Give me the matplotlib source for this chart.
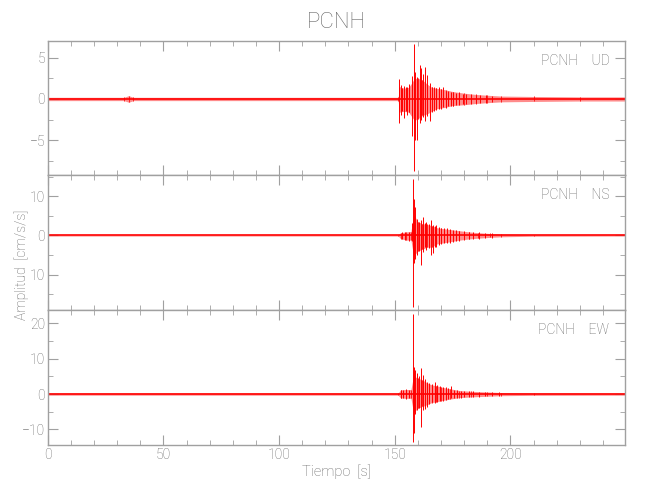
import matplotlib
matplotlib.use("Agg")
import matplotlib.pyplot as plt
from matplotlib.ticker import MultipleLocator

# Station / channel names
station = "PCNH"
channels = ["UD", "NS", "EW"]

# Time axis ticks
x_ticks = [0, 50, 100, 150, 200]
x_tick_labels = ["0", "50", "100", "150", "200"]

# Y ticks shown on each panel (labels as printed on the original)
y_ticks_ud = [5, 0, -5]
y_labels_ud = ["5", "0", "\u22125"]
y_ticks_ns = [10, 0, -10]
y_labels_ns = ["10", "0", "10"]
y_ticks_ew = [20, 10, 0, -10]
y_labels_ew = ["20", "10", "0", "\u221210"]

# Y limits
ylim_ud = (-9.2, 7.05)
ylim_ns = (-19.0, 15.4)
ylim_ew = (-14.4, 23.8)

# --- UD: envelope of the trace (time, upper, lower) ---
t_env_ud = [0, 33, 35, 37, 151.5, 152, 154, 156, 157.5, 158.5, 160, 162, 164,
            166, 168, 170, 172, 175, 180, 185, 190, 196, 210, 230, 249.5]
hi_env_ud = [0.2, 0.2, 0.4, 0.2, 0.2, 1.5, 1.3, 1.4, 2.0, 2.5, 2.5, 2.3, 1.8,
             1.4, 1.3, 1.2, 1.1, 0.9, 0.7, 0.55, 0.45, 0.35, 0.3, 0.25, 0.25]
lo_env_ud = [-0.2, -0.2, -0.4, -0.2, -0.2, -1.6, -1.5, -1.6, -2.2, -2.6, -2.4, -2.0, -1.8,
             -1.5, -1.2, -1.1, -1.0, -0.8, -0.7, -0.55, -0.45, -0.35, -0.3, -0.25, -0.25]
# UD: single large swings (time, low, high)
t_pk_ud = [151.9, 152.6, 153.3, 154.0, 154.8, 155.5, 156.3, 157.4, 158.2, 158.9,
           159.8, 160.8, 161.5, 162.3, 163.0, 164.1, 165.2, 166.1, 167.0, 168.0,
           169.0, 170.0, 171.0, 172.0, 173.0, 174.2, 175.3, 176.5, 178.0, 179.5,
           181.0, 183.0, 185.0, 187.0, 189.5, 192.0]
lo_pk_ud = [-2.9, -2.0, -1.4, -2.3, -1.5, -1.9, -1.6, -4.5, -8.7, -5.0,
            -5.0, -2.9, -2.5, -2.2, -2.7, -2.1, -2.7, -1.6, -1.5, -1.3,
            -1.2, -1.2, -1.0, -1.1, -0.9, -0.8, -0.8, -0.7, -0.7, -0.6,
            -0.6, -0.55, -0.5, -0.45, -0.45, -0.4]
hi_pk_ud = [2.4, 1.7, 1.3, 1.6, 1.4, 1.5, 1.8, 2.8, 6.7, 3.3,
            2.6, 4.1, 3.7, 3.0, 3.9, 2.9, 1.9, 1.5, 1.4, 1.3,
            1.5, 1.2, 1.5, 1.0, 1.0, 0.8, 0.9, 0.7, 0.8, 0.6,
            0.6, 0.55, 0.5, 0.5, 0.45, 0.4]

# --- NS ---
t_env_ns = [0, 151.5, 152.5, 155, 157, 157.8, 158.5, 160, 162, 164, 166, 168,
            170, 174, 178, 182, 186, 191, 196, 210, 249.5]
hi_env_ns = [0.15, 0.15, 0.7, 0.9, 1.0, 4.0, 5.0, 3.5, 3.0, 2.8, 2.5, 2.0,
             1.8, 1.5, 1.2, 0.9, 0.7, 0.5, 0.35, 0.2, 0.15]
lo_env_ns = [-0.15, -0.15, -0.8, -1.2, -1.2, -4.0, -5.0, -4.0, -3.5, -3.0, -3.0, -2.2,
             -2.0, -1.6, -1.2, -0.9, -0.7, -0.5, -0.35, -0.2, -0.15]
t_pk_ns = [153.0, 154.5, 156.0, 157.5, 157.9, 158.4, 158.9, 159.8, 160.5, 161.3,
           162.3, 163.0, 163.7, 164.6, 165.6, 166.6, 167.3, 168.0, 169.0, 170.0,
           171.2, 172.5, 173.8, 175.0, 176.5, 178.0, 180.0, 182.0, 184.0, 186.5,
           189.0, 192.0]
lo_pk_ns = [-1.0, -1.2, -1.3, -1.5, -18.2, -7.1, -6.0, -5.0, -4.0, -7.6,
            -4.2, -3.0, -3.7, -3.2, -5.0, -4.6, -3.0, -2.9, -2.4, -2.2,
            -2.0, -2.0, -1.8, -1.6, -1.4, -1.3, -1.2, -1.0, -0.9, -0.8,
            -0.7, -0.6]
hi_pk_ns = [0.8, 0.9, 1.0, 3.1, 14.5, 9.4, 7.3, 4.3, 3.5, 3.9,
            4.8, 3.2, 3.5, 3.0, 3.9, 2.6, 2.4, 2.6, 2.1, 2.0,
            1.9, 1.8, 1.6, 1.5, 1.3, 1.2, 1.1, 1.0, 0.9, 0.8,
            0.7, 0.6]

# --- EW ---
t_env_ew = [0, 151.5, 152.5, 155, 157, 157.8, 158.5, 160, 162, 164, 166, 168,
            170, 174, 178, 183, 190, 196, 210, 249.5]
hi_env_ew = [0.3, 0.3, 1.2, 1.3, 1.3, 4.0, 5.0, 4.5, 4.0, 3.2, 2.6, 2.4,
             2.0, 1.5, 1.0, 0.8, 0.6, 0.45, 0.35, 0.3]
lo_env_ew = [-0.3, -0.3, -1.1, -1.2, -1.2, -4.0, -5.0, -4.0, -3.5, -3.0, -2.4, -2.2,
             -1.9, -1.4, -1.0, -0.8, -0.6, -0.45, -0.35, -0.3]
t_pk_ew = [152.5, 153.5, 154.7, 156.0, 157.9, 158.4, 158.9, 159.8, 160.5, 161.3,
           162.3, 163.0, 164.1, 165.0, 165.9, 167.3, 168.4, 169.5, 170.7, 172.0,
           173.1, 174.2, 175.5, 177.0, 178.5, 180.0, 182.0, 184.0, 186.5, 189.0,
           192.0, 195.0]
lo_pk_ew = [-1.2, -1.1, -1.3, -1.2, -13.5, -11.1, -5.5, -4.5, -4.0, -9.3,
            -4.5, -4.1, -3.6, -2.8, -2.2, -2.6, -2.2, -2.0, -1.9, -1.8,
            -1.5, -1.2, -1.2, -1.1, -1.0, -0.9, -0.9, -0.8, -0.7, -0.6,
            -0.55, -0.5]
hi_pk_ew = [1.3, 1.2, 1.4, 1.3, 22.8, 7.7, 6.8, 5.9, 5.0, 7.3,
            5.4, 4.4, 3.5, 3.2, 3.0, 3.5, 2.5, 2.2, 2.0, 2.0,
            1.6, 2.3, 1.3, 1.1, 1.0, 0.9, 0.9, 0.8, 0.7, 0.6,
            0.55, 0.5]

GREY = "#666666"
AXIS_GREY = "#a0a0a0"
FONT = ["Liberation Sans Narrow", "Roboto", "DejaVu Sans"]

plt.rcParams["font.family"] = FONT
plt.rcParams["font.weight"] = "light"


def draw_trace(ax, t_env, hi_env, lo_env, t_pk, lo_pk, hi_pk):
    """
    Draw one channel: shaded envelope, big swings and the zero line.
    """
    ax.fill_between(t_env, lo_env, hi_env, color="#ff5a5a", linewidth=0, alpha=0.7)
    ax.vlines(t_env, lo_env, hi_env, color="#ff2020", linewidth=0.7)
    ax.vlines(t_pk, lo_pk, hi_pk, color="red", linewidth=0.7)
    ax.plot([t_env[0], t_env[-1]], [0, 0], color="red", linewidth=1.2)


def style_axis(ax, ylim, yticks, ylabels, minor, show_x):
    """
    IDL-like frame: grey axes, inward ticks on all four sides.
    """
    ax.set_xlim(0, 249.5)
    ax.set_ylim(*ylim)
    ax.set_yticks(yticks)
    ax.set_yticklabels(ylabels)
    ax.yaxis.set_minor_locator(MultipleLocator(minor))
    ax.set_xticks(x_ticks)
    ax.xaxis.set_minor_locator(MultipleLocator(10))
    if show_x:
        ax.set_xticklabels(x_tick_labels)
    else:
        ax.set_xticklabels([])
    for sp in ax.spines.values():
        sp.set_color(AXIS_GREY)
        sp.set_linewidth(1.0)
    ax.tick_params(which="both", direction="in", top=True, right=True,
                   color=AXIS_GREY, labelcolor=GREY, labelsize=10, pad=2)
    ax.tick_params(which="major", length=7)
    ax.tick_params(which="minor", length=3.5)


fig = plt.figure(figsize=(6.5, 5), dpi=100)
fig.patch.set_facecolor("white")

left, width = 0.0734, 0.888
ax_ud = fig.add_axes([left, 0.65, width, 0.2686])
ax_ns = fig.add_axes([left, 0.38, width, 0.27])
ax_ew = fig.add_axes([left, 0.11, width, 0.27])

draw_trace(ax_ud, t_env_ud, hi_env_ud, lo_env_ud, t_pk_ud, lo_pk_ud, hi_pk_ud)
draw_trace(ax_ns, t_env_ns, hi_env_ns, lo_env_ns, t_pk_ns, lo_pk_ns, hi_pk_ns)
draw_trace(ax_ew, t_env_ew, hi_env_ew, lo_env_ew, t_pk_ew, lo_pk_ew, hi_pk_ew)

style_axis(ax_ud, ylim_ud, y_ticks_ud, y_labels_ud, 2.5, False)
style_axis(ax_ns, ylim_ns, y_ticks_ns, y_labels_ns, 5, False)
style_axis(ax_ew, ylim_ew, y_ticks_ew, y_labels_ew, 5, True)

# channel tags in the upper right of each panel
for ax, ch in zip([ax_ud, ax_ns, ax_ew], channels):
    ax.text(0.973, 0.85, station + "    " + ch, transform=ax.transAxes,
            ha="right", va="center", color=GREY, fontsize=10)

fig.text(0.518, 0.955, station, ha="center", va="center", color=GREY, fontsize=16)
fig.text(0.518, 0.056, "Tiempo  [s]", ha="center", va="center", color=GREY, fontsize=10.5)
fig.text(0.034, 0.47, "Amplitud  [cm/s/s]", ha="center", va="center",
         rotation=90, color=GREY, fontsize=10)

plt.savefig("out.png", dpi=100)
plt.close()
